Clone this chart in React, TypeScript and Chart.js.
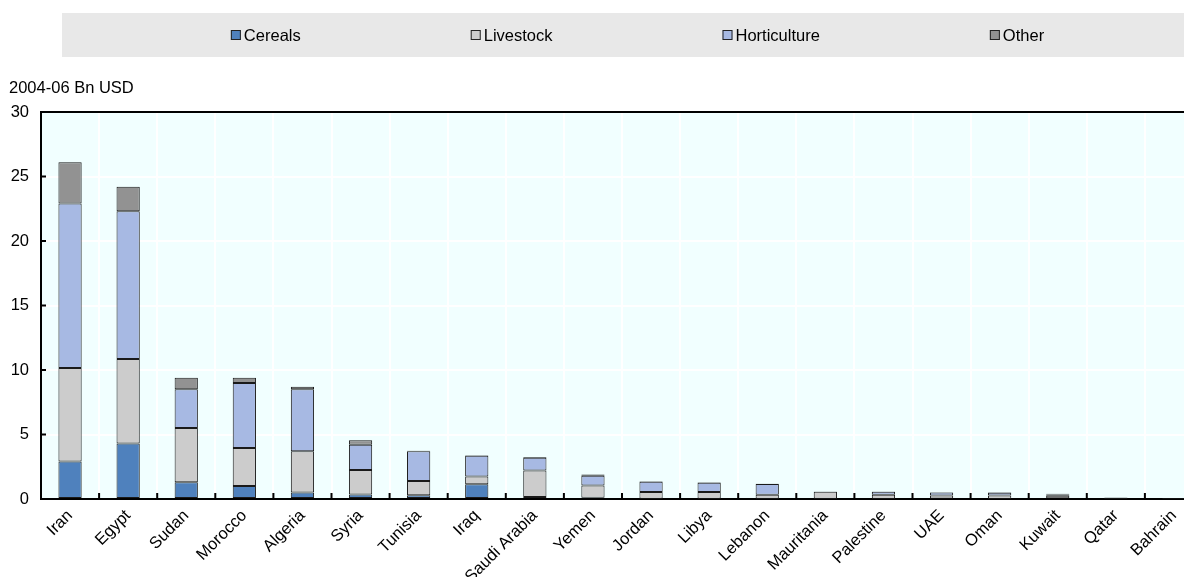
import { useEffect, useRef } from 'react';
import { Chart, registerables } from 'chart.js';

Chart.register(...registerables);

const categories = ['Iran', 'Egypt', 'Sudan', 'Morocco', 'Algeria', 'Syria', 'Tunisia', 'Iraq', 'Saudi Arabia', 'Yemen', 'Jordan', 'Libya', 'Lebanon', 'Mauritania', 'Palestine', 'UAE', 'Oman', 'Kuwait', 'Qatar', 'Bahrain'];
const cereals = [2.9, 4.3, 1.3, 1.0, 0.5, 0.35, 0.3, 1.15, 0.15, 0.1, 0.02, 0.02, 0.02, 0.02, 0.02, 0.03, 0.02, 0.05, 0.01, 0.01];
const livestock = [7.25, 6.55, 4.2, 2.95, 3.2, 1.9, 1.1, 0.6, 2.05, 0.95, 0.52, 0.52, 0.31, 0.55, 0.3, 0.25, 0.25, 0.2, 0.08, 0.05];
const horticulture = [12.75, 11.45, 3.0, 5.05, 4.8, 1.95, 2.3, 1.6, 1.0, 0.75, 0.8, 0.72, 0.83, 0.02, 0.25, 0.22, 0.22, 0.1, 0.03, 0.02];
const other = [3.2, 1.9, 0.9, 0.4, 0.2, 0.35, 0.05, 0.05, 0.05, 0.1, 0.03, 0.03, 0.03, 0.0, 0.02, 0.02, 0.03, 0.05, 0.01, 0.0];
const seriesNames = ['Cereals', 'Livestock', 'Horticulture', 'Other'];
const seriesColors = ['#4F81BD', '#CCCCCC', '#A7B9E3', '#929292'];
const yTicks = [0, 5, 10, 15, 20, 25, 30];
const unitLabel = '2004-06 Bn USD';

const FONT_FAMILY = "'Liberation Sans Narrow', 'Liberation Sans', Arial, sans-serif";
const FONT_SIZE = 16.5;

const decorPlugin = {
  id: 'decor',
  beforeDraw(chart: any) {
    const { ctx, chartArea: a, width } = chart;
    ctx.save();
    // plot background
    ctx.fillStyle = '#F1FFFF';
    ctx.fillRect(a.left, a.top, a.right - a.left, a.bottom - a.top);
    // legend box
    ctx.fillStyle = '#E8E8E8';
    ctx.fillRect(54, 5, width - 54, 44);
    ctx.font = `${FONT_SIZE}px ${FONT_FAMILY}`;
    ctx.textBaseline = 'middle';
    const box = 10;
    const gap = 3;
    const itemGap = 170;
    const widths = chart.data.datasets.map((d: any) => box + gap + ctx.measureText(d.label).width);
    const total = widths.reduce((s: number, w: number) => s + w, 0) + itemGap * (widths.length - 1);
    let x = 629.5 - total / 2;
    const cy = 27;
    chart.data.datasets.forEach((d: any, i: number) => {
      ctx.fillStyle = d.backgroundColor;
      ctx.fillRect(x, cy - box / 2, box, box);
      ctx.strokeStyle = '#222';
      ctx.lineWidth = 1;
      ctx.strokeRect(x + 0.5, cy - box / 2 + 0.5, box - 1, box - 1);
      ctx.fillStyle = '#000';
      ctx.textAlign = 'left';
      ctx.fillText(d.label, x + box + gap, cy + 1);
      x += widths[i] + itemGap;
    });
    // unit label
    ctx.fillText(unitLabel, 1, 80);
    ctx.restore();
  },
  afterDraw(chart: any) {
    const { ctx, chartArea: a, scales } = chart;
    ctx.save();
    ctx.strokeStyle = '#000';
    ctx.lineWidth = 2;
    ctx.beginPath();
    ctx.moveTo(a.left - 1, a.top);
    ctx.lineTo(a.right, a.top);
    // y inside ticks
    scales.y.ticks.forEach((t: any) => {
      const py = scales.y.getPixelForValue(t.value);
      ctx.moveTo(a.left, py);
      ctx.lineTo(a.left + 5, py);
    });
    // x inside ticks at category boundaries
    const n = chart.data.labels.length;
    for (let i = 1; i < n; i++) {
      const px = (scales.x.getPixelForValue(i - 1) + scales.x.getPixelForValue(i)) / 2;
      ctx.moveTo(px, a.bottom);
      ctx.lineTo(px, a.bottom - 6);
    }
    ctx.stroke();
    ctx.restore();
  },
};

export default function App() {
  const ref = useRef<HTMLCanvasElement | null>(null);
  useEffect(() => {
    document.documentElement.style.overflow = 'hidden';
    const canvas = ref.current!;
    const values = [cereals, livestock, horticulture, other];
    const chart = new Chart(canvas, {
      type: 'bar',
      data: {
        labels: categories,
        datasets: seriesNames.map((name, i) => ({
          label: name,
          data: values[i],
          backgroundColor: seriesColors[i],
          borderColor: '#1a1a1a',
          borderWidth: 1,
          borderSkipped: false,
          barPercentage: 0.4,
          categoryPercentage: 1,
        })),
      },
      options: {
        responsive: false,
        animation: false,
        devicePixelRatio: 1,
        layout: { padding: { top: 104, left: 0, right: 5, bottom: 0 } },
        plugins: {
          legend: { display: false },
          title: { display: false },
          tooltip: { enabled: false },
        },
        scales: {
          x: {
            stacked: true,
            grid: { color: '#ffffff', lineWidth: 2, drawTicks: false, offset: true },
            border: { color: '#000', width: 2 },
            ticks: {
              autoSkip: false,
              maxRotation: 45,
              minRotation: 45,
              padding: 7,
              color: '#000',
              font: { family: FONT_FAMILY, size: FONT_SIZE },
            },
            afterFit: (s: any) => { s.height = 78; },
          },
          y: {
            stacked: true,
            min: 0,
            max: 30,
            afterBuildTicks: (s: any) => { s.ticks = yTicks.map((v) => ({ value: v })); },
            grid: { color: '#ffffff', lineWidth: 2, drawTicks: false },
            border: { color: '#000', width: 2 },
            ticks: {
              padding: 12,
              color: '#000',
              font: { family: FONT_FAMILY, size: FONT_SIZE },
            },
            afterFit: (s: any) => { s.width = 33; },
          },
        },
      },
      plugins: [decorPlugin],
    });
    return () => chart.destroy();
  }, []);
  return (
    <div style={{ width: 1200, height: 569 }}>
      <canvas ref={ref} width={1200} height={569} style={{ display: 'block', width: 1200, height: 569 }} />
    </div>
  );
}
